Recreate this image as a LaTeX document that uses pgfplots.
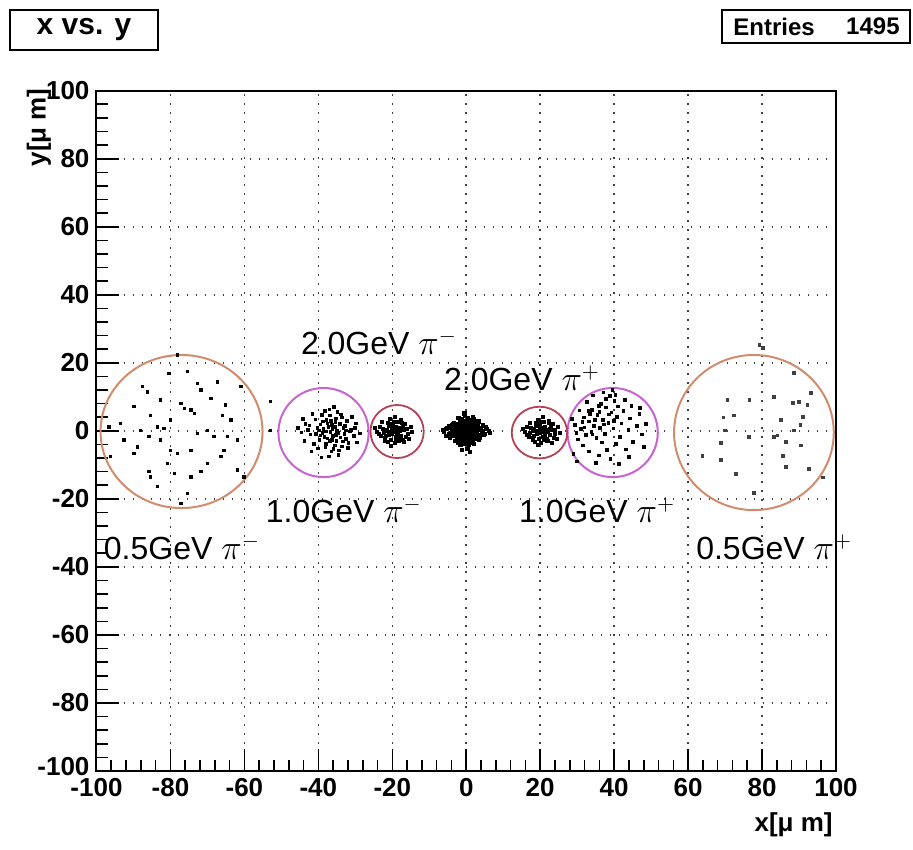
\documentclass[border=0pt]{standalone}
\usepackage{pgfplots}
\pgfplotsset{compat=1.18}
\usepackage{fontspec}
\setmainfont{Liberation Sans}
\definecolor{cA}{RGB}{208,140,108}
\definecolor{cB}{RGB}{200,100,210}
\definecolor{cC}{RGB}{180,65,85}
\begin{document}
\begin{tikzpicture}
\path[use as bounding box] (-48.25pt,-39pt) rectangle (408.25pt,385.5pt);
\begin{axis}[
  at={(0,0)}, anchor=south west,
  scale only axis, width=369.75pt, height=340.15pt,
  xmin=-100, xmax=100, ymin=-100, ymax=100,
  clip=false,
  xtick={-100,-80,...,100}, ytick={-100,-80,...,100},
  yticklabels={\raisebox{5pt}{-100},-80,-60,-40,-20,0,20,40,60,80,100},
  minor tick num=4,
  tick align=inside, xtick pos=bottom, ytick pos=left,
  major tick length=11pt, minor tick length=5.5pt,
  tick style={black, line width=0.8pt},
  axis line style={line width=1pt},
  grid=major,
  major grid style={black!75, line width=0.8pt, dash pattern=on 0.9pt off 3.6pt},
  ticklabel style={font=\fontsize{13}{13}\selectfont\bfseries},
  /pgf/number format/assume math mode=true,
]
% 0.5 GeV pi-
\addplot[only marks, mark=square*, mark size=0.6pt, black] coordinates {
(-87.6,13.0) (-86.3,11.5) (-85.4,4.6) (-83.6,1.2) (-82.7,-2.7) (-85.8,-1.7) (-81.8,0.7) (-80.0,3.2)
(-77.2,8.1) (-76.3,6.6) (-74.5,6.1) (-73.6,5.1) (-72.7,14.0) (-71.8,12.0) (-69.1,9.5) (-67.3,14.4)
(-66.0,4.6) (-65.1,7.6) (-63.7,3.2) (-70.0,0.2) (-68.2,-1.7) (-65.5,-5.7) (-64.6,-1.7) (-61.9,-2.7)
(-80.0,-5.7) (-78.1,-6.6) (-74.5,-5.7) (-89.9,-6.6) (-89.0,-4.7) (-85.8,-12.0) (-85.4,-13.5) (-79.0,-12.5)
(-74.5,-13.5) (-71.8,-12.0) (-61.9,-11.5) (-60.1,-13.5) (-77.2,-21.3) (-75.4,-18.4) (-80.9,-9.6) (-93.5,2.2)
(-92.6,-2.7) (-96.6,1.2) (-96.2,-7.6) (-78.1,22.3) (-80.4,16.9) (-75.4,17.4) (-82.7,9.1) (-61.0,13.0)
(-89.9,7.1) (-72.7,-0.8) (-70.0,-9.6) (-83.6,-16.4) (-66.4,-7.6) (-88.1,0.2) (-52.9,8.6) (-52.9,0.2)
};
% 0.5 GeV pi+
\addplot[only marks, mark=square*, mark size=0.6pt, black!75] coordinates {
(70.7,9.1) (76.5,9.1) (72.4,4.6) (69.6,4.0) (70.0,0.2) (63.9,-7.4) (68.9,-8.6) (72.9,-12.7)
(77.8,-18.3) (88.6,17.0) (93.2,11.1) (88.3,8.2) (90.0,8.5) (92.3,7.6) (85.1,3.2) (91.0,4.1)
(90.3,1.7) (83.2,-1.8) (84.2,-1.3) (86.5,-3.3) (90.5,-4.2) (85.6,-7.4) (86.5,-10.6) (92.7,-11.2)
(96.4,-13.6) (79.2,25.3) (80.2,24.4) (83.2,10.0) (68.9,-3.6) (76.4,-1.8) (88.6,0.2)
};
% 1.0 GeV pi-
\addplot[only marks, mark=square*, mark size=0.65pt, black] coordinates {
(-36.2,0.5) (-38.4,-1.8) (-34.1,1.9) (-40.3,0.8) (-32.5,-2.4) (-37.8,3.2) (-42.1,-1.1) (-31.2,0.3)
(-35.6,-4.3) (-39.0,4.6) (-43.5,2.1) (-30.4,-1.5) (-36.9,-3.0) (-33.7,3.9) (-41.2,-3.8) (-29.8,2.2)
(-44.6,-0.4) (-35.0,0.0) (-37.3,1.2) (-38.9,-0.6) (-33.0,-0.9) (-40.8,3.4) (-36.5,-6.1) (-34.8,5.5)
(-42.9,0.3) (-31.9,-3.6) (-38.1,-4.9) (-35.4,2.6) (-39.7,-2.7) (-32.8,1.4) (-37.0,6.3) (-41.6,5.0)
(-30.9,4.1) (-43.8,-2.9) (-34.4,-5.7) (-39.4,1.9) (-36.0,-1.4) (-33.4,-3.1) (-40.1,-5.2) (-35.2,3.6)
(-37.6,-2.2) (-31.5,-0.2) (-42.4,1.6) (-38.7,2.8) (-34.0,-1.9) (-36.8,4.5) (-40.6,-0.9) (-32.2,2.9)
(-44.1,3.5) (-29.5,-3.4) (-37.2,-7.5) (-35.8,7.1) (-33.2,0.8) (-39.9,0.1) (-38.3,5.8) (-34.6,-7.0)
(-41.9,-6.0) (-30.1,0.9) (-36.4,1.7) (-35.1,-2.9) (-37.9,-3.9) (-33.9,4.8) (-39.2,-7.8) (-32.0,-5.1)
(-45.5,0.9) (-28.8,-0.8) (-36.7,-0.3) (-34.2,2.1) (-38.6,0.6) (-35.9,-5.3) (-36.3,-2.6) (-34.7,-0.6)
(-37.5,2.2) (-33.6,-4.6) (-39.5,-1.3) (-35.5,1.1) (-32.6,0.1) (-38.0,-0.2) (-35.3,-1.2) (-36.6,3.0)
};
% 1.0 GeV pi+
\addplot[only marks, mark=square*, mark size=0.65pt, black] coordinates {
(31.0,0.5) (33.2,2.8) (35.5,4.6) (37.8,6.9) (40.1,8.8) (32.4,-1.2) (34.6,1.5) (36.9,3.3)
(39.2,5.4) (41.0,7.2) (30.2,-2.5) (33.8,-0.3) (36.1,0.8) (38.4,2.4) (40.7,4.1) (42.5,5.9)
(29.4,1.8) (31.8,4.0) (34.0,6.2) (36.4,8.0) (38.9,10.2) (35.2,-2.0) (37.5,-0.9) (39.8,0.7)
(42.0,2.2) (44.3,3.6) (46.1,1.4) (47.5,-1.0) (45.0,-3.2) (43.2,-5.5) (40.5,-3.8) (38.0,-5.6)
(35.8,-7.2) (33.1,-6.0) (31.5,-4.3) (29.0,-6.8) (46.8,4.9) (48.6,2.0) (44.7,7.3) (42.9,9.1)
(37.1,11.3) (39.5,12.0) (32.7,8.5) (30.6,6.0) (28.5,3.5) (34.3,10.4) (41.6,-1.7) (43.8,0.2)
(36.7,-3.4) (39.0,-8.2) (44.0,-7.6) (48.0,-4.8) (47.0,6.8) (30.0,-9.0) (35.0,-9.5) (41.3,-9.8)
(33.5,4.9) (37.2,1.9) (38.6,4.8) (36.0,5.6) (34.8,3.2) (39.9,3.0) (32.0,1.0) (37.7,9.4)
(40.3,10.6) (29.8,-0.6) (33.0,5.8) (35.9,7.3) (31.4,2.6) (34.1,-1.1)
};
% 2.0 GeV pi-
\addplot[only marks, mark=square*, mark size=0.75pt, black] coordinates {
(-19.2,0.3) (-20.8,-1.1) (-18.1,0.9) (-21.5,0.4) (-17.6,-1.6) (-19.9,1.8) (-22.3,-0.7) (-16.8,0.2)
(-20.4,-2.6) (-18.6,2.7) (-23.4,1.3) (-15.9,-0.9) (-19.0,-1.9) (-21.1,2.2) (-17.2,-2.8) (-24.2,-0.3)
(-15.1,1.1) (-19.6,0.0) (-20.1,0.9) (-18.4,-0.5) (-22.0,-2.0) (-16.5,2.0) (-19.3,-3.6) (-20.6,3.4)
(-17.9,-0.1) (-21.8,0.0) (-18.9,1.2) (-20.0,-0.8) (-23.0,-1.6) (-16.2,-1.9) (-19.7,2.6) (-18.2,-3.0)
(-21.2,-3.3) (-17.0,1.5) (-24.8,0.8) (-14.6,-0.4) (-19.4,4.0) (-20.3,-4.4) (-18.8,-1.2) (-20.9,1.5)
(-17.4,0.6) (-22.6,0.7) (-16.0,0.5) (-19.1,-0.4) (-19.8,0.5) (-21.6,-1.4) (-18.0,-2.2) (-20.5,2.1)
(-17.7,3.1) (-22.8,2.5) (-15.5,-2.3) (-19.5,1.0) (-18.5,0.4) (-20.7,-0.2) (-21.9,-2.9) (-16.9,-3.3)
(-23.7,-1.0) (-17.5,2.3) (-19.0,-2.7) (-20.2,1.3)
};
% 2.0 GeV pi+
\addplot[only marks, mark=square*, mark size=0.75pt, black] coordinates {
(20.3,0.2) (19.1,-1.0) (21.4,0.7) (18.2,0.5) (22.5,-1.3) (20.0,1.7) (17.3,-0.6) (23.2,0.3)
(19.6,-2.5) (21.0,2.6) (16.4,1.1) (24.1,-0.8) (20.8,-1.8) (18.7,2.3) (22.1,-2.9) (15.8,-0.2)
(24.9,1.2) (20.5,0.0) (19.8,0.8) (21.7,-0.4) (18.0,-2.1) (23.5,2.0) (20.2,-3.6) (19.3,3.3)
(22.0,0.1) (17.9,0.0) (21.2,1.3) (19.9,-0.7) (17.0,-1.7) (23.8,-2.0) (20.4,2.7) (21.9,-3.1)
(18.5,-3.2) (22.9,1.6) (15.2,0.7) (25.3,-0.5) (20.7,4.1) (19.5,-4.2) (21.3,-1.1) (18.9,1.6)
(22.6,0.5) (17.5,0.8) (24.0,0.4) (20.9,-0.3) (20.1,0.6) (18.4,-1.5) (21.8,-2.3) (19.4,2.0)
(22.3,3.0) (17.2,2.4) (24.5,-2.4) (20.6,1.0) (21.5,0.3) (19.2,-0.1) (18.1,-2.8) (23.1,-3.4)
(16.3,-1.1) (22.4,2.2) (21.0,-2.7) (19.7,1.4)
};
% centre
\addplot[only marks, mark=square*, mark size=0.8pt, black] coordinates {
(0.3,0.5) (-1.2,0.8) (1.5,-0.4) (-0.6,-1.3) (2.4,1.1) (-2.1,-0.2) (0.9,2.0) (-1.7,1.9)
(3.1,-1.2) (-3.0,0.6) (0.1,-2.4) (1.8,0.3) (-0.4,1.4) (2.7,2.3) (-2.6,-1.8) (4.0,0.2)
(-4.2,-0.5) (0.6,-0.9) (-1.0,-2.8) (1.3,3.1) (-0.8,3.0) (3.5,-2.6) (-3.4,2.4) (0.0,0.0)
(-0.2,-0.6) (1.1,1.2) (-1.5,-1.0) (2.2,-1.8) (-2.3,1.2) (5.0,-0.8) (-5.1,0.9) (0.4,3.8)
(-0.5,-3.7) (3.0,0.9) (-3.2,-1.1) (1.9,-2.9) (-1.8,2.8) (4.4,1.6) (-4.5,-1.9) (0.7,1.7)
(-0.9,-1.7) (2.5,-0.1) (-2.7,0.1) (1.6,2.5) (-1.4,-2.3) (3.7,-1.5) (-3.8,1.7) (0.2,-1.5)
(-0.1,2.2) (2.0,1.6) (-2.0,-2.5) (5.6,0.5) (-6.0,-0.3) (1.0,-3.5) (-1.1,3.5) (3.3,2.8)
(-3.1,-2.9) (0.5,0.9) (-0.7,0.3) (1.4,-1.1) (-1.3,0.5) (2.9,0.4) (-2.8,-0.7) (4.7,-1.2)
(-4.6,1.3) (0.8,-4.2) (-0.3,4.4) (2.1,3.6) (-2.2,-3.6) (3.9,0.7) (-3.6,-0.2) (1.2,0.1)
(-0.6,-0.1) (0.3,-2.0) (-1.9,0.0) (2.6,-2.2) (-2.4,2.1) (6.2,0.0) (-5.5,-1.4) (1.7,4.2)
(-1.6,-4.0) (0.0,1.0) (0.9,-0.3) (-0.9,1.1) (1.5,0.7) (-1.4,-0.4) (4.2,-0.3) (-3.9,0.4)
(2.3,0.9) (-2.5,-1.2) (0.4,-0.2) (-0.3,0.4) (0.8,0.6) (-0.7,-0.8) (1.3,-0.6) (-1.2,-0.3)
(0.2,1.5) (-0.4,-1.1) (1.0,0.9) (-1.1,0.7) (1.7,-1.5) (-1.6,1.4) (2.3,0.2) (-2.4,-0.6)
(0.6,-1.9) (-0.6,1.8) (1.9,1.1) (-1.8,-1.4) (2.8,-0.8) (-2.9,1.0) (0.1,2.8) (-0.2,-2.9)
(3.4,0.5) (-3.5,-0.4) (1.4,-2.4) (-1.3,2.4) (2.6,1.9) (-2.6,-2.0) (4.6,0.1) (-4.8,-0.8)
(0.9,3.3) (-0.8,-3.3) (3.6,-2.0) (-3.7,2.0) (5.3,1.0) (-5.6,0.6) (2.0,-3.8) (-2.1,3.9)
(1.1,-0.1) (-1.0,0.1) (0.5,2.4) (-0.5,-2.2) (2.1,-0.6) (-2.2,0.5) (3.2,1.4) (-3.3,-1.5)
(6.5,-0.6) (-6.4,0.3) (0.3,-5.2) (-1.2,-5.6) (1.0,-6.3) (-0.5,5.1)
};
% circles
\draw[cA, line width=1pt] (axis cs:-77.0,-0.2) ellipse [x radius=21.9, y radius=22.5];
\draw[cA, line width=1pt] (axis cs:77.8,-0.5) ellipse [x radius=21.6, y radius=22.8];
\draw[cB, line width=1pt] (axis cs:-38.6,-0.5) ellipse [x radius=12.2, y radius=13.1];
\draw[cB, line width=1pt] (axis cs:39.6,-0.5) ellipse [x radius=12.2, y radius=13.1];
\draw[cC, line width=0.9pt] (axis cs:-18.7,-0.2) ellipse [x radius=7.2, y radius=7.8];
\draw[cC, line width=0.9pt] (axis cs:19.8,-0.5) ellipse [x radius=7.5, y radius=7.6];
% labels
\begin{scope}[every node/.style={anchor=west, inner sep=0pt, font=\fontsize{16}{16}\selectfont}]
\node at (axis cs:-44.8,26.1) {2.0GeV $\pi^{-}$};
\node at (axis cs:-6.1,15.5) {2.0GeV $\pi^{+}$};
\node at (axis cs:-54.3,-23.3) {1.0GeV $\pi^{-}$};
\node at (axis cs:14.2,-23.3) {1.0GeV $\pi^{+}$};
\node at (axis cs:-98.1,-34.2) {0.5GeV $\pi^{-}$};
\node at (axis cs:62.1,-34.2) {0.5GeV $\pi^{+}$};
\end{scope}
\end{axis}
% title boxes
\draw[line width=0.8pt, fill=white] (-43.25pt,360.5pt) rectangle (30.75pt,380.5pt);
\node[font=\fontsize{15}{15}\selectfont\bfseries] at (-6.25pt,370.5pt) {x vs. y};
\draw[line width=0.8pt, fill=white] (312.75pt,364pt) rectangle (406.75pt,380.5pt);
\node[anchor=west, inner sep=0pt, font=\fontsize{12}{12}\selectfont\bfseries] at (318.25pt,372.25pt) {Entries};
\node[anchor=east, inner sep=0pt, font=\fontsize{12}{12}\selectfont\bfseries] at (401.75pt,372.25pt) {1495};
% axis titles
\node[rotate=90, anchor=east, inner sep=0pt, font=\fontsize{13}{13}\selectfont\bfseries] at (-28.75pt,341.5pt) {y[μ m]};
\node[anchor=east, inner sep=0pt, font=\fontsize{13}{13}\selectfont\bfseries] at (368.25pt,-27pt) {x[μ m]};
\end{tikzpicture}
\end{document}
